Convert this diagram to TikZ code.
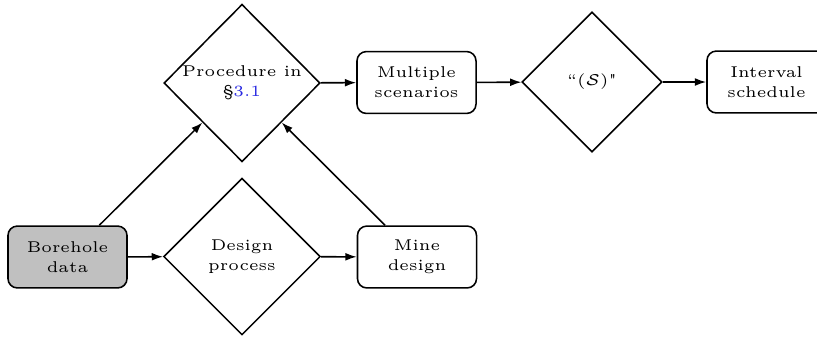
\documentclass[tikz,border=0pt]{standalone}
\usetikzlibrary{shapes.geometric,arrows.meta}
\definecolor{linkblue}{RGB}{40,40,225}
\definecolor{boxgray}{RGB}{192,192,192}
\begin{document}
\begin{tikzpicture}[x=0.32pt,y=-0.32pt,
  every node/.style={font=\fontsize{5}{6.4}\selectfont, align=center, line width=0.5pt},
  procbox/.style={draw, rounded corners=3pt, minimum width=38.1pt, minimum height=19.8pt, inner sep=0pt},
  decision/.style={draw, diamond, aspect=1, inner sep=0pt},
  flow/.style={-{Latex[length=3.6pt,width=2.5pt]}, line width=0.5pt}]
\useasboundingbox (0,0) rectangle (817,339);
\node[procbox, fill=boxgray] (bh) at (67.5,257) {Borehole\\data};
\node[decision, minimum width=50.2pt, minimum height=50.2pt] (dp) at (242,256.5) {Design\\process};
\node[procbox] (md) at (417,257) {Mine\\design};
\node[decision, minimum width=50pt, minimum height=50.4pt] (pr) at (242,83) {Procedure in\\\S\textcolor{linkblue}{3.1}};
\node[procbox] (ms) at (416.5,82.5) {Multiple\\scenarios};
\node[decision, minimum width=44.8pt, minimum height=44.8pt] (sc) at (592,82) {``($\mathcal{S}$)\textquotedbl};
\node[procbox] (is) at (766.5,82) {Interval\\schedule};
\draw[flow] (bh) -- (dp);
\draw[flow] (dp) -- (md);
\draw[flow] (bh) -- (pr);
\draw[flow] (md) -- (pr);
\draw[flow] (pr) -- (ms);
\draw[flow] (ms) -- (sc);
\draw[flow] (sc) -- (is);
\end{tikzpicture}
\end{document}
